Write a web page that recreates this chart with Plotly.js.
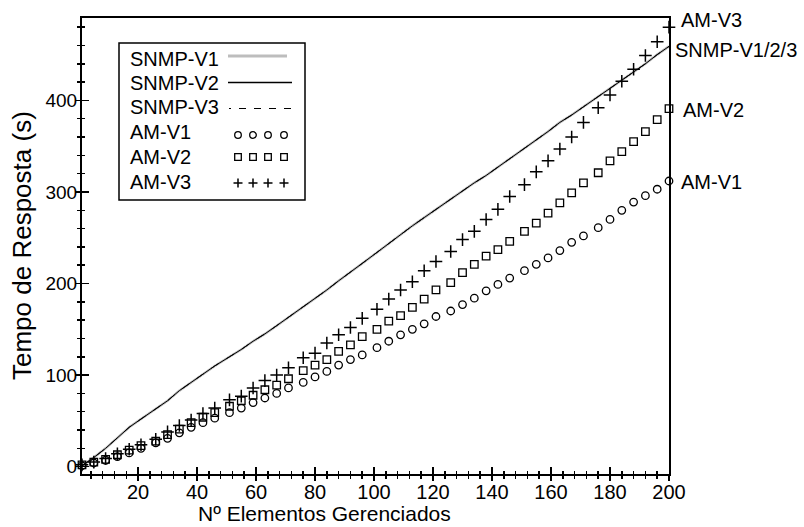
<!DOCTYPE html>
<html>
<head>
<meta charset="utf-8">
<script src="https://cdn.plot.ly/plotly-3.0.1.min.js"></script>
<style>html,body{margin:0;padding:0;background:#fff;}#chart{width:804px;height:527px;}</style>
</head>
<body>
<div id="chart"></div>
<script>
// ---- data ----
const elementos = [1,5,9,13,17,21,26,30,34,38,42,46,51,55,59,63,67,71,76,80,84,88,92,96,101,105,109,113,117,121,126,130,134,138,142,146,151,155,159,163,167,171,176,180,184,188,192,196,200];
const snmpV1 = [1,10,20,32,43,52,63,72,83,92,101,110,120,128,137,145,154,163,175,184,193,203,212,222,234,244,254,263,272,281,292,301,310,318,327,336,347,356,366,376,384,393,404,413,422,431,440,450,459];
const snmpV2 = [1,10,20,32,43,52,63,72,83,92,101,110,120,128,137,145,154,163,175,184,193,203,212,222,234,244,254,263,272,281,292,301,310,318,327,336,347,356,366,376,384,393,404,413,422,431,440,450,459];
const snmpV3 = [1,10,20,32,43,52,63,72,83,92,101,110,120,128,137,145,154,163,175,184,193,203,212,222,234,244,254,263,272,281,292,301,310,318,327,336,347,356,366,376,384,393,404,413,422,431,440,450,459];
const amV1 = [1,4,7,11,15,20,26,31,37,43,48,53,59,64,70,75,80,86,92,98,104,111,117,122,130,137,144,150,156,164,170,177,184,192,199,206,214,221,228,236,245,252,261,270,280,289,296,303,312];
const amV2 = [2,5,8,13,18,23,28,35,41,48,54,59,66,72,78,84,89,96,105,111,117,126,133,142,150,159,165,174,183,193,201,212,221,230,237,246,257,266,277,288,299,310,321,334,344,355,366,379,391];
const amV3 = [2,5,9,14,19,24,30,38,45,51,58,64,73,77,86,94,100,108,119,124,135,144,152,162,172,183,193,202,214,224,235,248,257,270,281,295,308,322,334,347,360,376,392,406,421,434,449,464,480];
const seriesNames = ["SNMP-V1","SNMP-V2","SNMP-V3","AM-V1","AM-V2","AM-V3"];
const endLabels = ["AM-V3","SNMP-V1/2/3","AM-V2","AM-V1"];
const xTitle = "Nº Elementos Gerenciados";
const yTitle = "Tempo de Resposta (s)";

// ---- layout helpers (pixel -> paper) ----
const L=82, R=669, T=18, B=474;
const px = x => (x-L)/(R-L);
const py = y => (B-y)/(B-T);
const FONT = "Liberation Sans, Arial, sans-serif";

const traces = [
  {x: elementos, y: snmpV1, name: seriesNames[0], mode:'lines', line:{color:'#bdbdbd', width:2.5}, cliponaxis:false},
  {x: elementos, y: snmpV2, name: seriesNames[1], mode:'lines', line:{color:'#000', width:1}, cliponaxis:false},
  {x: elementos, y: snmpV3, name: seriesNames[2], mode:'lines', line:{color:'#000', width:1, dash:'dash'}, cliponaxis:false},
  {x: elementos, y: amV1, name: seriesNames[3], mode:'markers', xaxis:'x2', yaxis:'y2',
   marker:{symbol:'circle-open', size:7.5, color:'#000', line:{width:1.3}}, cliponaxis:false},
  {x: elementos, y: amV2, name: seriesNames[4], mode:'markers', xaxis:'x2', yaxis:'y2',
   marker:{symbol:'square-open', size:7.5, color:'#000', line:{width:1.3}}, cliponaxis:false},
  {x: elementos, y: amV3, name: seriesNames[5], mode:'markers', xaxis:'x2', yaxis:'y2',
   marker:{symbol:'cross-thin-open', size:9, color:'#000', line:{width:1.5, color:'#000'}}, cliponaxis:false}
];

const XR=[1,200], YR=[-8,490];
const axBase = {showgrid:false, zeroline:false, tickcolor:'#000', tickwidth:1.5};
const layout = {
  width:804, height:527, showlegend:false,
  margin:{l:L, r:804-R, t:T, b:527-B, pad:0},
  paper_bgcolor:'#fff', plot_bgcolor:'#fff',
  font:{family:FONT, size:20, color:'#000'},
  xaxis: Object.assign({}, axBase, {range:XR, showline:true, linecolor:'#000', linewidth:2, mirror:true,
    ticks:'outside', ticklen:5, tickmode:'linear', tick0:0, dtick:20, ticklabelstandoff:-6,
    minor:{ticks:'outside', ticklen:3, dtick:4, tick0:0, tickcolor:'#000', tickwidth:1.5},
    tickfont:{family:FONT, size:20, color:'#000'}}),
  yaxis: Object.assign({}, axBase, {range:YR, showline:true, linecolor:'#000', linewidth:2, mirror:true,
    ticks:'outside', ticklen:5, tickmode:'linear', tick0:0, dtick:100, ticklabelstandoff:-6,
    minor:{ticks:'outside', ticklen:3, dtick:20, tick0:0, tickcolor:'#000', tickwidth:1.5},
    tickfont:{family:FONT, size:19, color:'#000'}}),
  xaxis2: Object.assign({}, axBase, {range:XR, overlaying:'x', anchor:'y2', showline:false, showticklabels:false,
    ticks:'inside', ticklen:7, tickmode:'linear', tick0:0, dtick:20,
    minor:{ticks:'inside', ticklen:3, dtick:4, tick0:0, tickcolor:'#000', tickwidth:1.5}}),
  yaxis2: Object.assign({}, axBase, {range:YR, overlaying:'y', anchor:'x2', showline:false, showticklabels:false,
    ticks:'inside', ticklen:7, tickmode:'linear', tick0:0, dtick:100,
    minor:{ticks:'inside', ticklen:3, dtick:20, tick0:0, tickcolor:'#000', tickwidth:1.5}}),
  shapes: [], annotations: []
};

// axis titles
layout.annotations.push({xref:'paper', yref:'paper', x:px(324), y:py(513), text:xTitle, showarrow:false,
  xanchor:'center', yanchor:'middle', font:{family:FONT, size:21, color:'#000'}});
layout.annotations.push({xref:'paper', yref:'paper', x:px(22), y:py(246), text:yTitle, showarrow:false, textangle:-90,
  xanchor:'center', yanchor:'middle', font:{family:FONT, size:26, color:'#000'}});

// end-of-series labels
const endPos = [[679,20],[673,50],[681,110],[679,182]];
endLabels.forEach((t,i)=>layout.annotations.push({xref:'paper', yref:'paper', x:px(endPos[i][0]), y:py(endPos[i][1]),
  text:t, showarrow:false, xanchor:'left', yanchor:'middle', font:{family:FONT, size:20, color:'#000'}}));

// hand-drawn legend (text left, sample right)
layout.shapes.push({type:'rect', xref:'paper', yref:'paper', x0:px(119), x1:px(305), y0:py(43), y1:py(200),
  line:{color:'#000', width:1.5}, fillcolor:'rgba(255,255,255,0)'});
const rowY = [59,83,107,132,157,182];
seriesNames.forEach((n,i)=>layout.annotations.push({xref:'paper', yref:'paper', x:px(128), y:py(rowY[i]), text:n,
  showarrow:false, xanchor:'left', yanchor:'middle', font:{family:FONT, size:20, color:'#000'}}));
layout.shapes.push({type:'line', xref:'paper', yref:'paper', x0:px(228), x1:px(287), y0:py(56), y1:py(56), line:{color:'#bdbdbd', width:3}});
layout.shapes.push({type:'line', xref:'paper', yref:'paper', x0:px(228), x1:px(292), y0:py(82.5), y1:py(82.5), line:{color:'#000', width:1.5}});
layout.shapes.push({type:'line', xref:'paper', yref:'paper', x0:px(229), x1:px(292), y0:py(108.5), y1:py(108.5), line:{color:'#000', width:1.2, dash:'2px,8px,7px,8px,7px,8px,7px,8px,7px'}});
const symX = [238,253,268,284];
symX.forEach(cx=>{
  layout.shapes.push({type:'circle', xref:'paper', yref:'paper', x0:px(cx-3.3), x1:px(cx+3.3), y0:py(135-3.3), y1:py(135+3.3), line:{color:'#000', width:1.3}});
  layout.shapes.push({type:'rect', xref:'paper', yref:'paper', x0:px(cx-3.3), x1:px(cx+3.3), y0:py(157-3.3), y1:py(157+3.3), line:{color:'#000', width:1.3}});
  layout.shapes.push({type:'line', xref:'paper', yref:'paper', x0:px(cx-4.5), x1:px(cx+4.5), y0:py(183), y1:py(183), line:{color:'#000', width:1.5}});
  layout.shapes.push({type:'line', xref:'paper', yref:'paper', x0:px(cx), x1:px(cx), y0:py(183-4.5), y1:py(183+4.5), line:{color:'#000', width:1.5}});
});

Plotly.newPlot('chart', traces, layout, {displayModeBar:false, staticPlot:true});
</script>
</body>
</html>
